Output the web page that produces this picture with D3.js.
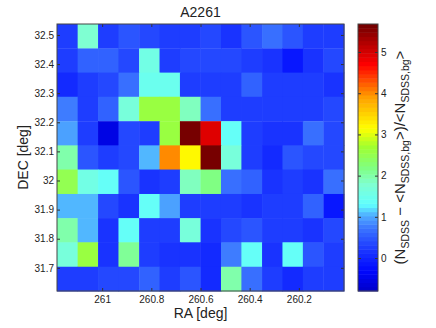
<!DOCTYPE html>
<html>
<head>
<meta charset="utf-8">
<script src="https://cdn.jsdelivr.net/npm/d3@7"></script>
<style>
  body { margin: 0; background: #fff; }
  text { font-family: "Liberation Sans", Arial, Helvetica, sans-serif; fill: #222; }
</style>
</head>
<body>
<svg id="chart" width="436" height="328"></svg>
<script>
// bin centres (5 arcmin bins)
var raCenters = [261.142, 261.058, 260.975, 260.892, 260.808, 260.725, 260.642,
                 260.558, 260.475, 260.392, 260.308, 260.225, 260.142, 260.058];
var decCenters = [32.496, 32.412, 32.329, 32.246, 32.162, 32.079,
                  31.996, 31.912, 31.829, 31.746, 31.662];
var binSize = 0.08333;

// overdensity per bin, rows top (high DEC) to bottom
var density = [
  [0.3, 1.75, 0.3, 0.5, 0.35, 0.3, 0.3, 0.35, 0.2, 0.45, 0.65, 0.45, 0.3, 0.3],
  [0.3, 0.6, 0.6, 0.4, 1.6, 0.3, 0.35, 0.4, 0.35, 0.3, 0.2, -0.1, 0.15, 0.4],
  [0.1, 0.25, 0.35, 0.7, 1.45, 1.45, 0.3, 0.25, 0.25, 0.55, 0.3, 0.3, 0.25, 0.15],
  [0.75, 0.25, 0.6, 1.7, 2.6, 2.6, 1.9, 0.65, 0.3, 0.25, 0.3, 0.3, 0.3, 0.4],
  [1.0, 0.3, -0.5, 0.35, 0.3, 2.6, 5.6, 4.9, 1.4, 0.3, 0.2, 0.2, 0.7, 0.35],
  [2.0, 0.45, 0.3, 0.35, 1.1, 4.0, 3.2, 5.6, 1.7, 0.3, 0.1, 0.45, 0.35, 0.35],
  [2.5, 1.55, 1.35, 0.5, 0.2, 0.3, 1.9, 2.2, 0.7, 0.55, 0.2, 0.3, 0.2, 0.7],
  [1.1, 1.1, 0.35, 0.2, 1.4, 0.95, 0.3, 0.25, 0.25, 0.2, 0.25, 0.25, 0.55, -0.1],
  [2.0, 1.1, 0.2, 1.4, 0.25, 0.25, 1.65, 0.2, 0.35, 0.5, 0.25, 0.25, 0.2, 0.4],
  [1.7, 2.6, 0.2, 2.1, 0.3, 0.2, 0.2, 0.1, 0.8, 1.4, 0.2, 1.4, 0.45, 0.3],
  [0.25, 0.25, 0.35, 0.35, 0.55, 0.3, 0.5, 0.1, 2.0, 0.65, 0.3, 0.1, 0.3, 0.3]
];

var raTicks = [261, 260.8, 260.6, 260.4, 260.2];
var decTicks = [31.7, 31.8, 31.9, 32, 32.1, 32.2, 32.3, 32.4, 32.5];
var cbarTicks = [0, 1, 2, 3, 4, 5];
var cRange = [-0.8, 5.68];

// jet-like colormap stops
var cmapStops = [-0.8, -0.3, 0.3, 0.8, 1.05, 1.3, 1.8, 2.2, 2.7, 3.15, 3.9, 4.7, 5.68];
var cmapColors = ["#0000c8", "#0008ff", "#2040ff", "#4080ff", "#50b0ff", "#60ffff",
                  "#80ffd0", "#80ff80", "#a0ff30", "#ffff00", "#ffa000", "#ff0000", "#700000"];
var nLevels = 64;

var plot = {left: 57, right: 344, top: 24, bottom: 291};
var cbar = {left: 358, right: 378};

var svg = d3.select("#chart");

var x = d3.scaleLinear()
  .domain([raCenters[0] + binSize / 2, raCenters[raCenters.length - 1] - binSize / 2])
  .range([plot.left, plot.right]);
var y = d3.scaleLinear()
  .domain([decCenters[decCenters.length - 1] - binSize / 2, decCenters[0] + binSize / 2])
  .range([plot.bottom, plot.top]);

var cmap = d3.scaleLinear().domain(cmapStops).range(cmapColors).clamp(true);
var step = (cRange[1] - cRange[0]) / nLevels;
function colorOf(v) {
  var k = Math.min(nLevels - 1, Math.max(0, Math.floor((v - cRange[0]) / step)));
  return cmap(cRange[0] + (k + 0.5) * step);
}

// cells
var cells = [];
density.forEach(function(row, r) {
  row.forEach(function(v, c) {
    cells.push({ra: raCenters[c], dec: decCenters[r], v: v});
  });
});

svg.append("g").selectAll("rect")
  .data(cells)
  .enter()
  .append("rect")
    .attr("x", function(d) { return x(d.ra + binSize / 2); })
    .attr("y", function(d) { return y(d.dec + binSize / 2); })
    .attr("width", function(d) { return x(d.ra - binSize / 2) - x(d.ra + binSize / 2) + 0.5; })
    .attr("height", function(d) { return y(d.dec - binSize / 2) - y(d.dec + binSize / 2) + 0.5; })
    .attr("fill", function(d) { return colorOf(d.v); });

var fmt = function(d) { return String(+d.toFixed(1)); };

function styleAxis(g) {
  g.select(".domain").remove();
  g.selectAll(".tick line").attr("stroke", "#333");
  g.selectAll(".tick text").attr("font-size", 10).attr("fill", "#222")
    .attr("font-family", "Liberation Sans, Arial, sans-serif");
}

svg.append("g")
  .attr("transform", "translate(0," + plot.bottom + ")")
  .call(d3.axisBottom(x).tickValues(raTicks).tickFormat(fmt).tickSize(-3).tickPadding(5))
  .call(styleAxis);
svg.append("g")
  .attr("transform", "translate(0," + plot.top + ")")
  .call(d3.axisTop(x).tickValues(raTicks).tickFormat("").tickSize(-3))
  .call(styleAxis);
svg.append("g")
  .attr("transform", "translate(" + plot.left + ",0)")
  .call(d3.axisLeft(y).tickValues(decTicks).tickFormat(fmt).tickSize(-3).tickPadding(3))
  .call(styleAxis);
svg.append("g")
  .attr("transform", "translate(" + plot.right + ",0)")
  .call(d3.axisRight(y).tickValues(decTicks).tickFormat("").tickSize(-3))
  .call(styleAxis);

svg.append("rect")
  .attr("x", plot.left).attr("y", plot.top)
  .attr("width", plot.right - plot.left).attr("height", plot.bottom - plot.top)
  .attr("fill", "none").attr("stroke", "#444").attr("stroke-width", 1);

// colorbar
var cy = d3.scaleLinear().domain(cRange).range([plot.bottom, plot.top]);
var bands = d3.range(nLevels).map(function(k) { return cRange[0] + k * step; });

svg.append("g").selectAll("rect")
  .data(bands)
  .enter()
  .append("rect")
    .attr("x", cbar.left)
    .attr("y", function(d) { return cy(d + step); })
    .attr("width", cbar.right - cbar.left)
    .attr("height", function(d) { return cy(d) - cy(d + step) + 0.5; })
    .attr("fill", function(d) { return colorOf(d + step / 2); });

svg.append("g")
  .attr("transform", "translate(" + cbar.right + ",0)")
  .call(d3.axisRight(cy).tickValues(cbarTicks).tickFormat(d3.format("d")).tickSize(-3).tickPadding(3))
  .call(styleAxis);
svg.append("g")
  .attr("transform", "translate(" + cbar.left + ",0)")
  .call(d3.axisLeft(cy).tickValues(cbarTicks).tickFormat("").tickSize(-3))
  .call(styleAxis);

svg.append("rect")
  .attr("x", cbar.left).attr("y", plot.top)
  .attr("width", cbar.right - cbar.left).attr("height", plot.bottom - plot.top)
  .attr("fill", "none").attr("stroke", "#444").attr("stroke-width", 1);

// labels
svg.append("text")
  .attr("x", (plot.left + plot.right) / 2).attr("y", 17)
  .attr("text-anchor", "middle").attr("font-size", 14)
  .text("A2261");

svg.append("text")
  .attr("x", (plot.left + plot.right) / 2).attr("y", 318)
  .attr("text-anchor", "middle").attr("font-size", 14)
  .text("RA [deg]");

svg.append("text")
  .attr("transform", "translate(28," + (plot.top + plot.bottom) / 2 + ") rotate(-90)")
  .attr("text-anchor", "middle").attr("font-size", 14)
  .text("DEC [deg]");

var cl = svg.append("text")
  .attr("transform", "translate(405," + (plot.top + plot.bottom) / 2 + ") rotate(-90)")
  .attr("text-anchor", "middle").attr("font-size", 15);

var parts = [
  ["(N", 0], ["SDSS", 1], [" \u2212 <N", 0], ["SDSS,bg", 1],
  [">)/<N", 0], ["SDSS,bg", 1], [">", 0]
];
var shift = 0;
parts.forEach(function(p) {
  var dy = p[1] ? 3.5 - shift : -shift;
  shift = p[1] ? 3.5 : 0;
  cl.append("tspan")
    .attr("dy", dy)
    .attr("font-size", p[1] ? 10.5 : 15)
    .text(p[0]);
});
</script>
</body>
</html>
